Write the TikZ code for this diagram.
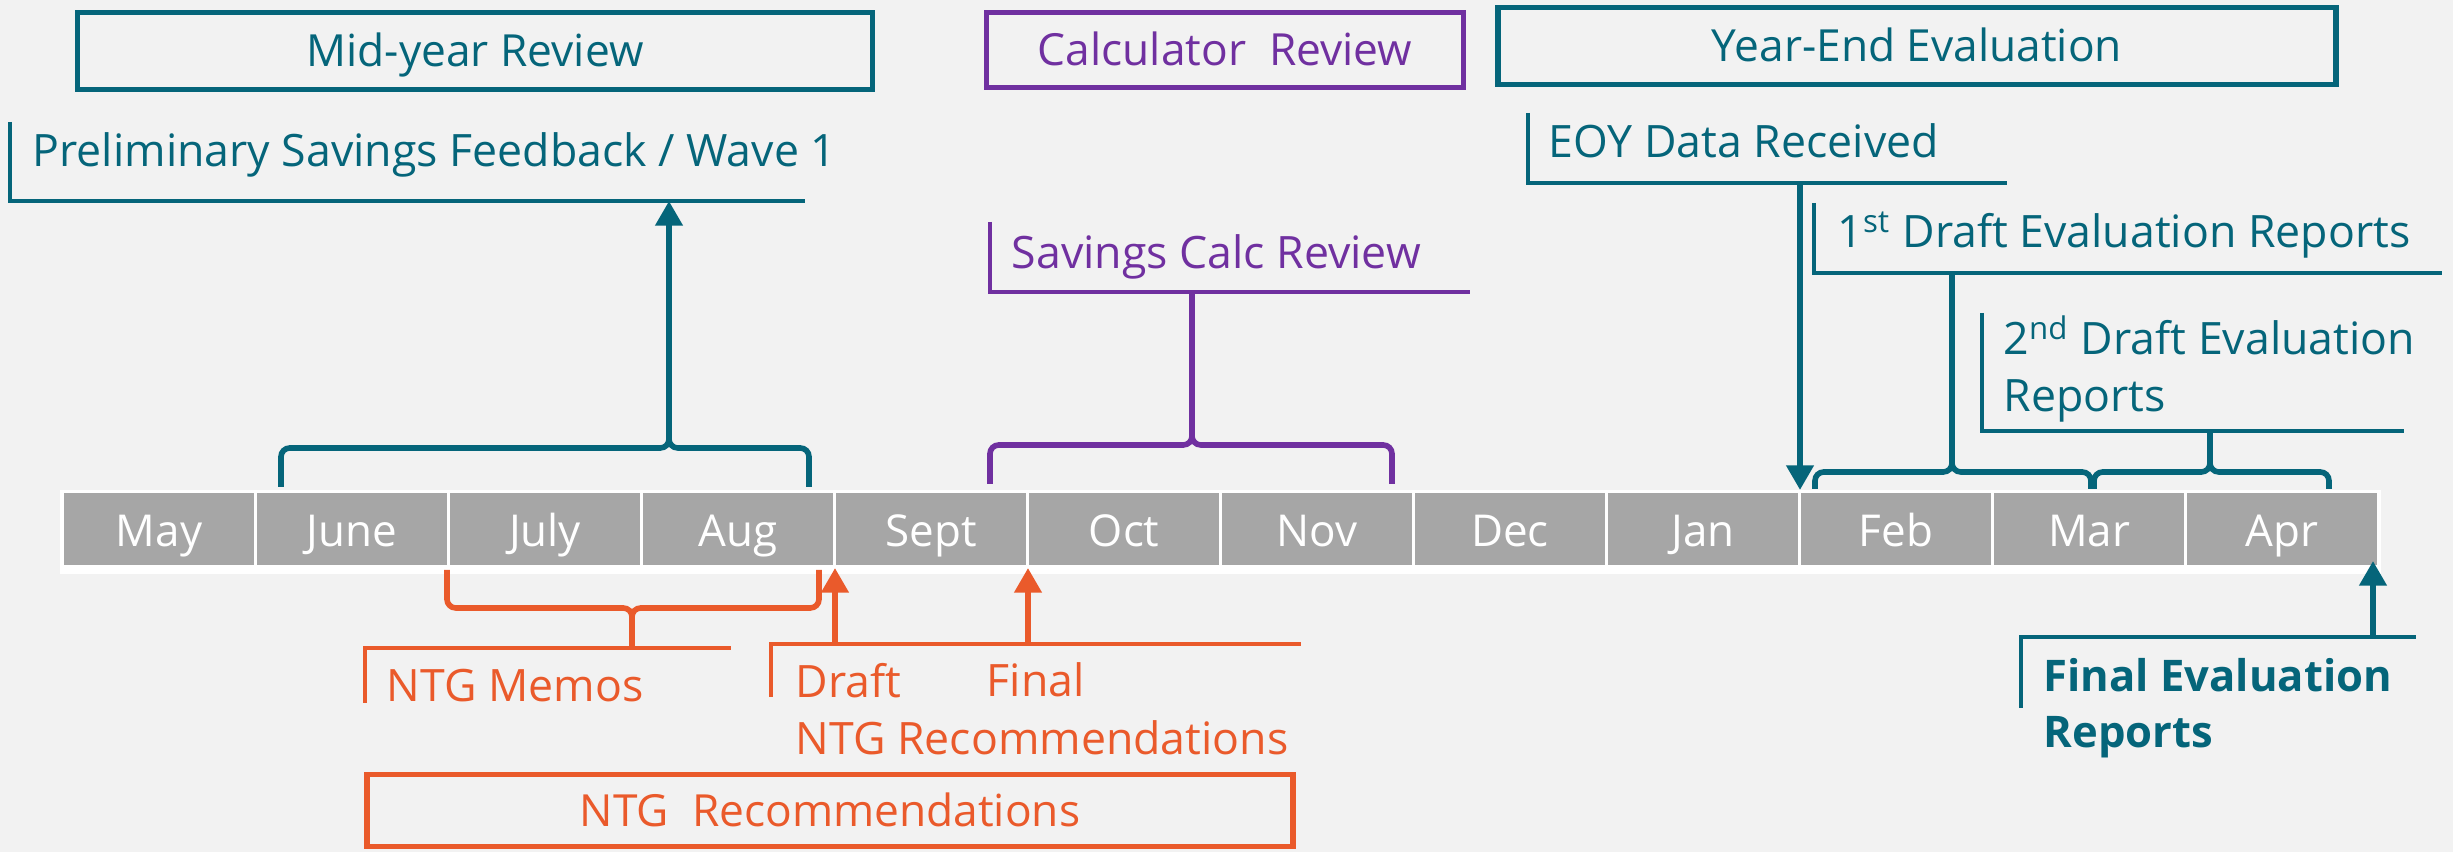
\documentclass[tikz,border=0pt]{standalone}
\usepackage{fontspec}
\setmainfont{Open Sans}
\usetikzlibrary{arrows.meta}

\definecolor{tealc}{HTML}{05657A}
\definecolor{purplec}{HTML}{7030A0}
\definecolor{orangec}{HTML}{EA5A2B}
\definecolor{monthc}{HTML}{A6A6A6}
\definecolor{bgc}{HTML}{F2F2F2}

% brace: style, x left, x tip, x right, y ends, y line, y tip
\newcommand{\tlbrace}[7]{%
  \draw[bracepath, #1] (#2,#5) -- (#2,#6) -- (#3,#6) -- (#3,#7);
  \draw[bracepath, #1] (#4,#5) -- (#4,#6) -- (#3,#6) -- (#3,#7);
}

\begin{document}
\begin{tikzpicture}[x=0.1mm, y=-0.1mm, >={Triangle[width=7.5pt,length=7pt]},
  lbl/.style={inner sep=0pt, anchor=base west, align=left, font=\fontsize{12.7}{16.3}\selectfont},
  titlebox/.style={draw, line width=1.5pt, inner sep=0pt, text height=9pt, text depth=0pt, font=\fontsize{12.6}{15}\selectfont},
  callline/.style={line width=0.9pt},
  bracepath/.style={line width=1.6pt, rounded corners=2.5pt},
  stem/.style={line width=1.7pt},
  month/.style={fill=monthc, text=white, minimum width=19mm, minimum height=7.2mm, inner sep=0pt, text height=10.2pt, text depth=0pt, font=\fontsize{12.5}{15}\selectfont}]
\path[use as bounding box, fill=bgc] (0,0) rectangle (2453,852);

% month bar
\fill[white] (60,490) rectangle (2381,574);
\foreach \m [count=\i] in {May,June,July,Aug,Sept,Oct,Nov,Dec,Jan,Feb,Mar,Apr}
  \node[month] (m\i) at ({62.6+193*(\i-0.5)},529) {\m};

% titles
\node[titlebox, draw=tealc, text=tealc, minimum width=79.5mm, minimum height=7.7mm] (midyear) at (475,51) {Mid-year Review};
\node[titlebox, draw=purplec, text=purplec, minimum width=47.7mm, minimum height=7.5mm] (calcrev) at (1225,50) {Calculator~ Review};
\node[titlebox, draw=tealc, text=tealc, minimum width=83.8mm, minimum height=7.7mm] (yearend) at (1917,46) {Year-End Evaluation};
\node[titlebox, draw=orangec, text=orangec, minimum width=92.6mm, minimum height=7.2mm] (ntgbox) at (830,810.5) {NTG~ Recommendations};

% callouts above
\node[lbl, text=tealc] (prelim) at (32,167) {Preliminary Savings Feedback / Wave 1};
\draw[callline, tealc] (10,122) |- (805,201);
\node[lbl, text=purplec] (savcalc) at (1011,269) {Savings Calc Review};
\draw[callline, purplec] (990,222) |- (1470,292);
\node[lbl, text=tealc] (eoy) at (1548,158) {EOY Data Received};
\draw[callline, tealc] (1528,113) |- (2007,183);
\node[lbl, text=tealc] (draftone) at (1837,248) {1\textsuperscript{st} Draft Evaluation Reports};
\draw[callline, tealc] (1814,203) |- (2442,273);
\node[lbl, text=tealc] (drafttwo) at (2003,412) {2\textsuperscript{nd} Draft Evaluation\\Reports};
\draw[callline, tealc] (1982,313) |- (2404,431);

% callouts below
\node[lbl, text=orangec] (memos) at (386,702) {NTG Memos};
\draw[callline, orangec] (365,703) |- (731,648);
\node[lbl, text=orangec] (ntgdraft) at (795,755) {Draft\\NTG Recommendations};
\node[lbl, text=orangec] (ntgfinal) at (986,697) {Final};
\draw[callline, orangec] (771,697) |- (1301,644);
\node[lbl, text=tealc, font=\fontsize{12.4}{16}\selectfont\bfseries] (finaleval) at (2043,748) {Final Evaluation\\Reports};
\draw[callline, tealc] (2021,708) |- (2416,637);

% braces
\tlbrace{tealc}{281}{669}{809}{487}{448}{430}
\tlbrace{purplec}{990}{1192}{1392}{484}{445}{425}
\tlbrace{tealc}{1815}{1952}{2091}{489}{472}{460}
\tlbrace{tealc}{2094}{2210}{2329}{489}{472}{460}
\tlbrace{orangec}{447}{632}{819}{570}{608}{622}

% connectors
\coordinate (jatip) at (669,430);
\coordinate (prelimfoot) at (669,201);
\coordinate (sntip) at (1192,425);
\coordinate (savfoot) at (1192,292);
\coordinate (eoyfoot) at (1800,183);
\coordinate (febtop) at (1800,490);
\coordinate (fmtip) at (1952,460);
\coordinate (onefoot) at (1952,273);
\coordinate (matip) at (2210,460);
\coordinate (twofoot) at (2210,431);
\coordinate (finalfoot) at (2373,637);
\coordinate (aprbot) at (2373,561);
\coordinate (jatipb) at (632,622);
\coordinate (memofoot) at (632,648);
\coordinate (draftfoot) at (835,644);
\coordinate (septbot) at (835,568);
\coordinate (finalntgfoot) at (1028,644);
\coordinate (octbot) at (1028,568);

\draw[stem, tealc, ->] (jatip) -- (prelimfoot);
\draw[stem, purplec] (sntip) -- (savfoot);
\draw[stem, tealc, ->] (eoyfoot) -- (febtop);
\draw[stem, tealc] (fmtip) -- (onefoot);
\draw[stem, tealc] (matip) -- (twofoot);
\draw[stem, tealc, ->] (finalfoot) -- (aprbot);
\draw[stem, orangec] (jatipb) -- (memofoot);
\draw[stem, orangec, ->] (draftfoot) -- (septbot);
\draw[stem, orangec, ->] (finalntgfoot) -- (octbot);
\end{tikzpicture}
\end{document}
